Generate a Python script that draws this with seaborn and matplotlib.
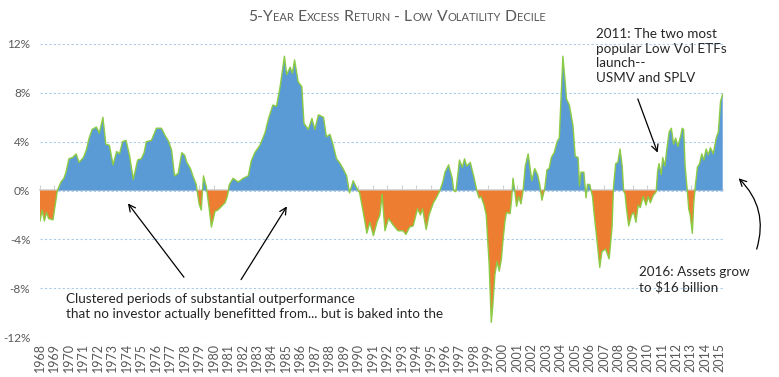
import numpy as np
import pandas as pd
import matplotlib
matplotlib.use("Agg")
import matplotlib.pyplot as plt
import seaborn as sns
from matplotlib.offsetbox import TextArea, HPacker, AnnotationBbox

sns.set_theme(style="white")
plt.rcParams['font.family'] = ['Lato', 'DejaVu Sans']

# 5-year excess return of the low volatility decile (%)
dates = [
    1968.0, 1968.15, 1968.3, 1968.45, 1968.6, 1968.9, 1969.2, 1969.45, 1969.65, 1969.8,
    1970.0, 1970.25, 1970.5, 1970.7, 1971.0, 1971.2, 1971.4, 1971.6, 1971.9, 1972.1,
    1972.35, 1972.55, 1972.8, 1973.05, 1973.3, 1973.5, 1973.7, 1973.95, 1974.2, 1974.45,
    1974.75, 1975.0, 1975.2, 1975.35, 1975.7, 1976.05, 1976.4, 1976.65, 1976.9, 1977.1,
    1977.3, 1977.55, 1977.8, 1978.0, 1978.15, 1978.4, 1978.6, 1978.8, 1979.0, 1979.15,
    1979.3, 1979.5, 1979.7, 1979.85, 1980.1, 1980.3, 1980.55, 1980.8, 1980.95, 1981.1,
    1981.35, 1981.7, 1982.05, 1982.4, 1982.6, 1982.85, 1983.2, 1983.55, 1983.8, 1984.1,
    1984.35, 1984.6, 1984.9, 1985.05, 1985.3, 1985.45, 1985.6, 1985.85, 1986.1, 1986.25,
    1986.55, 1986.8, 1987.0, 1987.25, 1987.6, 1987.8, 1988.05, 1988.25, 1988.5, 1988.7,
    1988.95, 1989.2, 1989.4, 1989.65, 1989.9, 1990.1, 1990.35, 1990.6, 1990.8, 1991.05,
    1991.3, 1991.5, 1991.65, 1991.85, 1992.1, 1992.4, 1992.75, 1993.1, 1993.3, 1993.55,
    1993.8, 1994.1, 1994.3, 1994.45, 1994.7, 1994.9, 1995.2, 1995.4, 1995.65, 1995.85,
    1996.0, 1996.25, 1996.5, 1996.6, 1996.75, 1997.0, 1997.2, 1997.35, 1997.5, 1997.75,
    1998.0, 1998.2, 1998.35, 1998.5, 1998.7, 1998.85, 1999.05, 1999.2, 1999.3, 1999.45,
    1999.6, 1999.75, 1999.9, 2000.0, 2000.15, 2000.25, 2000.5, 2000.6, 2000.7, 2000.8,
    2000.95, 2001.1, 2001.25, 2001.4, 2001.55, 2001.75, 2001.9, 2002.0, 2002.2, 2002.4,
    2002.55, 2002.7, 2002.9, 2003.05, 2003.2, 2003.35, 2003.55, 2003.75, 2003.9, 2004.0,
    2004.15, 2004.3, 2004.4, 2004.6, 2004.85, 2005.0, 2005.2, 2005.3, 2005.4, 2005.6,
    2005.75, 2005.85, 2006.0, 2006.2, 2006.3, 2006.5, 2006.7, 2006.85, 2007.1, 2007.35,
    2007.55, 2007.65, 2007.8, 2007.95, 2008.1, 2008.25, 2008.35, 2008.45, 2008.55, 2008.7,
    2008.9, 2009.05, 2009.2, 2009.35, 2009.5, 2009.7, 2009.9, 2010.05, 2010.2, 2010.4,
    2010.6, 2010.7, 2010.8, 2010.95, 2011.05, 2011.2, 2011.35, 2011.5, 2011.65, 2011.8,
    2011.95, 2012.1, 2012.3, 2012.4, 2012.5, 2012.6, 2012.75, 2012.85, 2012.95, 2013.1,
    2013.2, 2013.3, 2013.45, 2013.6, 2013.75, 2013.9, 2014.05, 2014.2, 2014.35, 2014.55,
    2014.75, 2014.9, 2015.05, 2015.2,
]
excess = [
    -2.5, -1.6, -2.5, -1.8, -2.3, -2.4, 0.0, 0.7, 1.0, 1.5,
    2.6, 2.7, 3.0, 2.3, 2.7, 3.3, 4.3, 5.0, 5.2, 4.7,
    6.0, 3.8, 3.7, 2.1, 3.2, 3.0, 4.0, 4.1, 2.8, 0.9,
    2.5, 2.6, 3.1, 4.0, 4.1, 5.1, 5.1, 4.5, 4.0, 3.3,
    1.2, 1.4, 3.1, 2.9, 2.3, 1.8, 1.1, 0.5, -1.1, -1.6,
    1.2, 0.3, -1.5, -3.0, -1.7, -1.6, -1.3, -1.0, -0.5, 0.5,
    1.0, 0.7, 1.0, 1.2, 2.4, 3.1, 3.7, 4.7, 5.9, 7.0,
    6.9, 8.5, 11.0, 9.5, 10.1, 9.6, 10.7, 8.9, 8.5, 5.5,
    5.0, 5.9, 5.0, 6.2, 6.0, 4.4, 4.6, 3.8, 2.6, 2.3,
    1.8, 1.2, -0.2, 0.8, 0.2, -0.2, -1.8, -3.5, -2.6, -3.7,
    -2.6, -2.0, -0.3, -3.3, -2.3, -2.8, -3.3, -3.3, -3.6, -3.0,
    -2.9, -1.5, -2.0, -1.5, -3.2, -2.0, -1.0, -0.6, 0.0, 0.7,
    1.5, 2.1, 1.0, 0.0, -0.1, 2.5, 1.9, 2.6, 2.0, 2.3,
    1.1, 0.0, -0.6, -0.5, -1.2, -2.0, -6.0, -10.8, -9.5, -6.9,
    -5.8, -6.6, -5.6, -4.2, -2.5, -1.8, -1.9, -0.8, 1.0, 0.2,
    -1.3, -0.5, -1.1, 0.0, 2.0, 3.0, 1.7, 0.8, 1.8, 1.3,
    0.5, -0.8, 0.2, 1.7, 1.8, 2.7, 3.1, 4.0, 4.3, 7.0,
    11.0, 9.0, 7.5, 7.0, 5.3, 2.8, 2.7, 0.4, 1.5, 1.5,
    -0.6, 0.5, 0.5, -0.5, -1.8, -4.0, -6.3, -5.0, -4.8, -5.6,
    -3.0, 0.3, 2.2, 2.3, 3.4, 2.0, 0.0, -0.3, -1.5, -2.9,
    -2.0, -1.8, -2.6, -1.2, -1.4, -0.5, -1.2, -0.5, -1.0, -0.4,
    -0.1, 1.6, 2.2, 1.3, 2.7, 2.0, 3.5, 4.8, 5.1, 3.8,
    4.3, 3.6, 4.5, 5.1, 5.0, 2.0, 0.0, -1.5, -2.0, -3.5,
    -1.0, 0.3, 1.9, 2.2, 3.0, 2.5, 3.4, 2.9, 3.5, 3.0,
    4.3, 4.8, 7.3, 7.9,
]
years = list(range(1968, 2016))
pct_ticks = [-12, -8, -4, 0, 4, 8, 12]

df = pd.DataFrame({'date': dates, 'excess': excess})

blue = '#5B9BD5'
orange = '#ED7D31'
green = '#8CCB45'
grey_txt = '#595959'
axis_grey = '#D0D0D0'

fig = plt.figure(figsize=(7.79, 3.77), dpi=100)
ax = fig.add_axes([40 / 779, 1 - 337 / 377, (723 - 40) / 779, (337 - 44) / 377])

x = df['date'].to_numpy()
y = df['excess'].to_numpy()
ax.fill_between(x, y, 0, where=y >= 0, interpolate=True, color=blue, lw=0, zorder=2)
ax.fill_between(x, y, 0, where=y <= 0, interpolate=True, color=orange, lw=0, zorder=2)
sns.lineplot(data=df, x='date', y='excess', color=green, lw=1.0, ax=ax, zorder=3)

ax.set_xlim(1968, 2015.22)
ax.set_ylim(-12, 12)
ax.set_yticks(pct_ticks)
ax.set_yticklabels([f"{v}%" for v in pct_ticks])
ax.set_xticks(years)
ax.set_xticklabels([str(v) for v in years], rotation=90)
ax.tick_params(axis='x', length=0, pad=4, labelsize=9, labelcolor=grey_txt)
ax.tick_params(axis='y', length=0, pad=7, labelsize=8.5, labelcolor=grey_txt)
ax.yaxis.grid(True, color='#A9CBEA', lw=0.8, ls=(0, (2, 2)), zorder=0)
ax.set_axisbelow(True)
ax.set_xlabel('')
ax.set_ylabel('')
for s in ax.spines.values():
    s.set_visible(False)

# zero axis with small tick marks hanging below
zax = ax.secondary_xaxis(0.5)
zax.set_xticks(years)
zax.set_xticklabels([])
zax.tick_params(axis='x', direction='out', length=3.5, width=0.8, color=axis_grey,
                labelbottom=False, labeltop=False)
for s in zax.spines.values():
    s.set_color(axis_grey)
    s.set_linewidth(1.2)

# small caps title
title = "5-Year Excess Return - Low Volatility Decile"
runs = []
cur, cur_small = '', None
for ch in title:
    small = ch.islower()
    if cur and small != cur_small:
        runs.append((cur, cur_small))
        cur = ''
    cur += ch
    cur_small = small
runs.append((cur, cur_small))
parts = [TextArea(t.upper(), textprops=dict(color=grey_txt, fontsize=8.0 if s else 11.3))
         for t, s in runs]
pack = HPacker(children=parts, align='baseline', pad=0, sep=0)
ab = AnnotationBbox(pack, (397 / 779, 1 - 17 / 377), xycoords='figure fraction',
                    frameon=False, box_alignment=(0.5, 0.5))
fig.add_artist(ab)

arrow = dict(arrowstyle='->', color='black', lw=0.9, shrinkA=0, shrinkB=0)
ax.text(1969.8, -9.5, "Clustered periods of substantial outperformance\n"
        "that no investor actually benefitted from... but is baked into the",
        fontsize=9.7, va='center', ha='left', linespacing=1.25)
ax.annotate('', xy=(1974.08, -1.06), xytext=(1977.95, -7.1), arrowprops=arrow)
ax.annotate('', xy=(1985.07, -1.3), xytext=(1981.9, -7.3), arrowprops=arrow)
ax.text(2006.42, 11.0, "2011: The two most\npopular Low Vol ETFs\nlaunch--\nUSMV and SPLV",
        fontsize=9.7, va='center', ha='left', linespacing=1.25, clip_on=False)
ax.annotate('', xy=(2010.7, 3.1), xytext=(2009.33, 7.5), arrowprops=arrow)
ax.text(2009.4, -7.3, "2016: Assets grow\nto $16 billion", fontsize=9.7, va='center',
        ha='left', linespacing=1.25)
ax.annotate('', xy=(2016.3, 1.0), xytext=(2017.55, -4.8), annotation_clip=False,
            arrowprops=dict(arrowstyle='->', color='black', lw=0.9, shrinkA=0, shrinkB=0,
                            connectionstyle='arc3,rad=0.3'))

fig.savefig('out.png', dpi=100)
